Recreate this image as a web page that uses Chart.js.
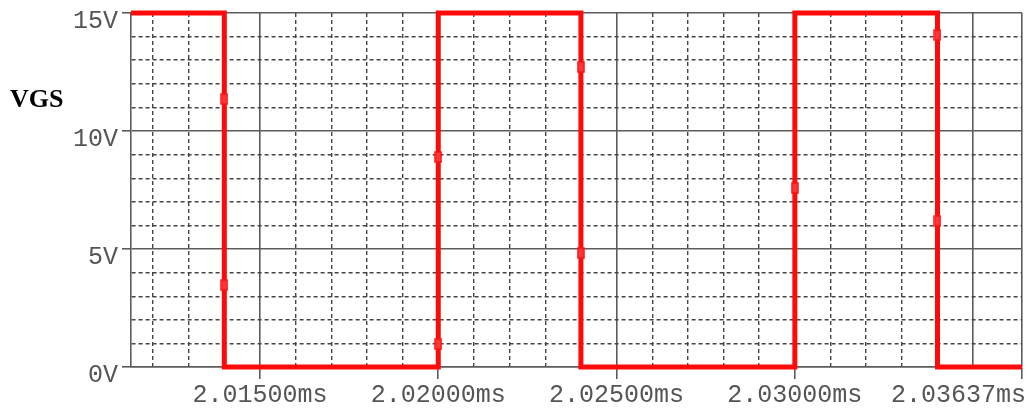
<!DOCTYPE html>
<html>
<head>
<meta charset="utf-8">
<title>VGS</title>
<script src="https://cdn.jsdelivr.net/npm/chart.js@4/dist/chart.umd.min.js"></script>
<style>
  html, body { margin: 0; padding: 0; background: #ffffff; }
  #wrap { width: 1029px; height: 412px; }
</style>
</head>
<body>
<div id="wrap"><canvas id="c" width="1029" height="412"></canvas></div>
<script>
// Gate drive waveform VGS (time in ms, voltage in V)
const stepTimes  = [2.011383, 2.014, 2.014, 2.020, 2.020, 2.024, 2.024, 2.030, 2.030, 2.034, 2.034, 2.03637];
const vgsLevels  = [15, 15, 0, 0, 15, 15, 0, 0, 15, 15, 0, 0];

// Simulation sample markers on the switching edges
const markerTimes = [2.014, 2.014, 2.020, 2.020, 2.024, 2.024, 2.030, 2.034, 2.034];
const markerVolts = [11.36, 3.47, 8.9, 0.97, 12.71, 4.83, 7.58, 14.07, 6.19];

// Axis ticks
const xStart = 2.011383;
const xEnd = 2.03637;
const xTickValues = [2.015, 2.020, 2.025, 2.030, 2.03637];
const xTickLabels = ['2.01500ms', '2.02000ms', '2.02500ms', '2.03000ms', '2.03637ms'];
const yTickValues = [0, 5, 10, 15];
const yTickLabels = ['0V', '5V', '10V', '15V'];

const RED = '#ff0a0a';
const MAJOR = '#5c5c5c';
const MINOR = '#454545';
const TEXT = '#555555';
const MONO = '"Liberation Mono", "DejaVu Sans Mono", monospace';

function near(a, b) { return Math.abs(a - b) < 1e-7; }
function xLabelIndex(v) { return xTickValues.findIndex(t => near(t, v)); }
function yLabelIndex(v) { return yTickValues.findIndex(t => near(t, v)); }
function xIsMajor(v) {
  const us = v * 1000;
  return near(v, xEnd) || (Math.abs(us - Math.round(us)) < 1e-6 && Math.round(us) % 5 === 0);
}
function yIsMajor(v) { return Math.abs(v - Math.round(v)) < 1e-9 && Math.round(v) % 5 === 0; }

const wave = stepTimes.map((t, i) => ({ x: t, y: vgsLevels[i] }));
const marks = markerTimes.map((t, i) => ({ x: t, y: markerVolts[i] }));

// small upright rectangle used as the sample marker
const markerImg = document.createElement('canvas');
markerImg.width = 8; markerImg.height = 12;
(function () {
  const g = markerImg.getContext('2d');
  g.fillStyle = 'rgba(255,70,70,0.75)';
  g.fillRect(1, 1, 6, 10);
  g.strokeStyle = '#ff1010';
  g.lineWidth = 1.5;
  g.strokeRect(1, 1, 6, 10);
})();

// the right-end time label sits flush with the plot edge
const edgeLabel = {
  id: 'edgeLabel',
  afterDraw(chart) {
    const ctx = chart.ctx;
    const xs = chart.scales.x;
    const idx = xTickValues.length - 1;
    const px = xs.getPixelForValue(xTickValues[idx]);
    ctx.save();
    ctx.font = '25px ' + MONO;
    ctx.fillStyle = TEXT;
    ctx.textAlign = 'right';
    ctx.textBaseline = 'middle';
    ctx.fillText(xTickLabels[idx], px + 4, chart.chartArea.bottom + 12 + 1 + 15);
    ctx.restore();
  }
};

const signalName = {
  id: 'signalName',
  afterDraw(chart) {
    const ctx = chart.ctx;
    ctx.save();
    ctx.font = 'bold 26px "Liberation Serif", "Times New Roman", serif';
    ctx.fillStyle = '#000000';
    ctx.textAlign = 'left';
    ctx.textBaseline = 'alphabetic';
    ctx.fillText('VGS', 10, 107);
    ctx.restore();
  }
};

new Chart(document.getElementById('c'), {
  type: 'line',
  data: {
    datasets: [
      {
        label: 'VGS',
        data: wave,
        borderColor: RED,
        borderWidth: 5,
        borderJoinStyle: 'miter',
        borderCapStyle: 'butt',
        pointRadius: 0,
        tension: 0,
        fill: false,
        clip: false,
        order: 2
      },
      {
        label: 'samples',
        data: marks,
        showLine: false,
        pointStyle: markerImg,
        pointRadius: 5,
        clip: false,
        order: 1
      }
    ]
  },
  options: {
    responsive: false,
    animation: false,
    events: [],
    layout: { padding: { left: 0, top: 13, right: 7, bottom: 0 } },
    plugins: { legend: { display: false }, tooltip: { enabled: false }, title: { display: false } },
    scales: {
      x: {
        type: 'linear',
        min: xStart,
        max: xEnd,
        afterBuildTicks(scale) {
          const ticks = [];
          for (let k = 2012; k <= 2035; k++) ticks.push({ value: k / 1000 });
          ticks.push({ value: xEnd });
          scale.ticks = ticks;
        },
        afterFit(scale) {
          scale.height = 45;
          scale.paddingLeft = 0;
          scale.paddingRight = 0;
        },
        ticks: {
          autoSkip: false,
          maxRotation: 0,
          minRotation: 0,
          padding: 1,
          color: TEXT,
          font: { family: MONO, size: 25 },
          callback(value) {
            const i = xLabelIndex(value);
            return (i >= 0 && i < xTickLabels.length - 1) ? xTickLabels[i] : '';
          }
        },
        grid: {
          drawOnChartArea: true,
          drawTicks: true,
          tickLength: 12,
          color: ctx => (ctx.tick && xIsMajor(ctx.tick.value)) ? MAJOR : MINOR,
          lineWidth: ctx => (ctx.tick && xIsMajor(ctx.tick.value)) ? 1.6 : 1.4,
          tickColor: ctx => (ctx.tick && xLabelIndex(ctx.tick.value) >= 0) ? MAJOR : 'rgba(0,0,0,0)',
          tickWidth: 1.6
        },
        border: {
          display: true,
          color: MAJOR,
          width: 1.6,
          dash: ctx => (ctx.tick && !xIsMajor(ctx.tick.value)) ? [4, 3] : []
        }
      },
      y: {
        type: 'linear',
        min: 0,
        max: 15,
        afterBuildTicks(scale) {
          const ticks = [];
          for (let v = 0; v <= 15; v++) ticks.push({ value: v });
          scale.ticks = ticks;
        },
        afterFit(scale) {
          scale.width = 131;
          scale.paddingTop = 0;
          scale.paddingBottom = 0;
        },
        ticks: {
          autoSkip: false,
          padding: 4,
          labelOffset: 8,
          color: TEXT,
          font: { family: MONO, size: 25 },
          callback(value) {
            const i = yLabelIndex(value);
            return i >= 0 ? yTickLabels[i] : '';
          }
        },
        grid: {
          drawTicks: true,
          tickLength: 9,
          color: ctx => (ctx.tick && yIsMajor(ctx.tick.value)) ? MAJOR : MINOR,
          lineWidth: ctx => (ctx.tick && yIsMajor(ctx.tick.value)) ? 1.6 : 1.4,
          tickColor: ctx => (ctx.tick && yLabelIndex(ctx.tick.value) >= 0) ? MAJOR : 'rgba(0,0,0,0)',
          tickWidth: 1.6
        },
        border: {
          display: true,
          color: MAJOR,
          width: 1.6,
          dash: ctx => (ctx.tick && !yIsMajor(ctx.tick.value)) ? [4, 3] : []
        }
      }
    }
  },
  plugins: [edgeLabel, signalName]
});
</script>
</body>
</html>
